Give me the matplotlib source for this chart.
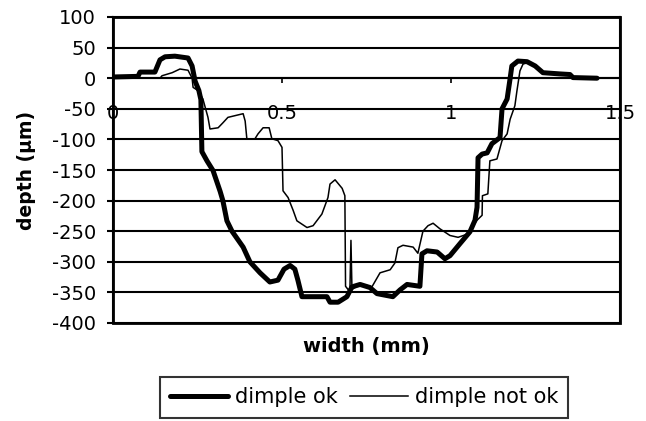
import matplotlib
matplotlib.use("Agg")
import matplotlib.pyplot as plt

plt.rcParams['font.family'] = ['DejaVu Sans']
plt.rcParams['axes.unicode_minus'] = False

# dimple ok (thick line): width (mm), depth (um)
ok_x = [0.000, 0.074, 0.080, 0.124, 0.139, 0.154, 0.183, 0.222, 0.234, 0.243,
        0.254, 0.260, 0.263, 0.278, 0.296, 0.317, 0.325, 0.337, 0.352, 0.385,
        0.405, 0.435, 0.464, 0.488, 0.506, 0.524, 0.538, 0.547, 0.559, 0.598,
        0.633, 0.642, 0.666, 0.692, 0.707, 0.731, 0.760, 0.781, 0.828, 0.849,
        0.870, 0.908, 0.914, 0.929, 0.959, 0.982, 0.997, 1.027, 1.056, 1.071,
        1.077, 1.080, 1.092, 1.107, 1.121, 1.145, 1.151, 1.166, 1.175, 1.180,
        1.198, 1.225, 1.249, 1.272, 1.322, 1.352, 1.361, 1.432]
ok_y = [2, 3, 10, 10, 30, 35, 36, 33, 20, -5,
        -20, -35, -120, -135, -151, -185, -200, -233, -250, -276,
        -300, -318, -333, -330, -312, -306, -312, -330, -357, -357,
        -357, -366, -366, -357, -341, -337, -342, -352, -357, -346,
        -337, -340, -287, -282, -284, -295, -290, -270, -251, -232,
        -211, -130, -124, -122, -107, -97, -50, -34, 0, 20,
        28, 27, 20, 9, 7, 6, 1, 0]

# dimple not ok (thin line)
nok_x = [0.000, 0.139, 0.145, 0.175, 0.198, 0.222, 0.234, 0.237, 0.251, 0.266,
         0.281, 0.287, 0.311, 0.325, 0.340, 0.370, 0.385, 0.391, 0.396, 0.420,
         0.429, 0.444, 0.462, 0.470, 0.488, 0.500, 0.503, 0.518, 0.533, 0.544,
         0.574, 0.592, 0.618, 0.636, 0.642, 0.657, 0.678, 0.686, 0.688, 0.695,
         0.701, 0.704, 0.707, 0.722, 0.746, 0.766, 0.790, 0.820, 0.834, 0.843,
         0.858, 0.888, 0.902, 0.917, 0.932, 0.947, 0.967, 0.997, 1.021, 1.047,
         1.077, 1.092, 1.093, 1.109, 1.115, 1.136, 1.151, 1.166, 1.175, 1.189,
         1.195, 1.204, 1.213, 1.228, 1.249, 1.272, 1.352, 1.361, 1.432]
nok_y = [0, 0, 4, 9, 15, 13, 0, -15, -20, -34,
         -64, -83, -81, -73, -64, -60, -58, -70, -99, -99,
         -91, -81, -81, -99, -102, -113, -184, -195, -216, -233,
         -244, -241, -222, -195, -173, -166, -180, -192, -340, -345,
         -345, -265, -345, -340, -338, -341, -318, -313, -302, -277,
         -273, -276, -286, -250, -241, -237, -246, -257, -260, -255,
         -232, -224, -192, -189, -135, -132, -102, -91, -67, -45,
         -21, 12, 23, 26, 20, 9, 6, 1, 0]

xticks = [0, 0.5, 1, 1.5]
xtick_labels = ["0", "0.5", "1", "1.5"]
yticks = [-400, -350, -300, -250, -200, -150, -100, -50, 0, 50, 100]

fig = plt.figure(figsize=(6.46, 4.21), dpi=100)
ax = fig.add_axes([113/646, 1 - 323/421, 507/646, 306/421])

ax.plot(ok_x, ok_y, color='black', linewidth=3.6, label='dimple ok',
        solid_capstyle='round', solid_joinstyle='round')
ax.plot(nok_x, nok_y, color='black', linewidth=1.1, label='dimple not ok')

ax.set_xlim(0, 1.5)
ax.set_ylim(-400, 100)
ax.set_yticks(yticks)
ax.set_yticklabels([str(v) for v in yticks])
ax.set_xticks(xticks)
ax.set_xticklabels(xtick_labels)

ax.yaxis.grid(True, color='black', linewidth=1.5)
ax.set_axisbelow(True)

for s in ['left', 'right', 'top']:
    ax.spines[s].set_linewidth(1.5)
ax.spines['bottom'].set_position(('data', 0))
ax.spines['bottom'].set_linewidth(1.5)
ax.patch.set_edgecolor('black')
ax.patch.set_linewidth(2.0)

ax.tick_params(axis='y', direction='out', length=4.3, width=1.5, pad=8,
               labelsize=14)
ax.tick_params(axis='x', direction='out', length=3.5, width=1.2, pad=15,
               labelsize=14)

ax.set_xlabel('width (mm)', fontsize=14, fontweight='bold')
ax.xaxis.set_label_coords(0.5, -0.045)
ax.set_ylabel('depth (µm)', fontsize=13.5, fontweight='bold')
ax.yaxis.set_label_coords(-0.152, 0.5)

leg = fig.legend(loc='upper center', bbox_to_anchor=(364/646, 1 - 377/421),
                 ncol=2, fontsize=15, frameon=True, fancybox=False,
                 handlelength=2.8, handletextpad=0.3, columnspacing=0.6,
                 borderpad=0.5, borderaxespad=0)
leg.get_frame().set_edgecolor('black')
leg.get_frame().set_linewidth(1.5)

fig.savefig('out.png', dpi=100)
